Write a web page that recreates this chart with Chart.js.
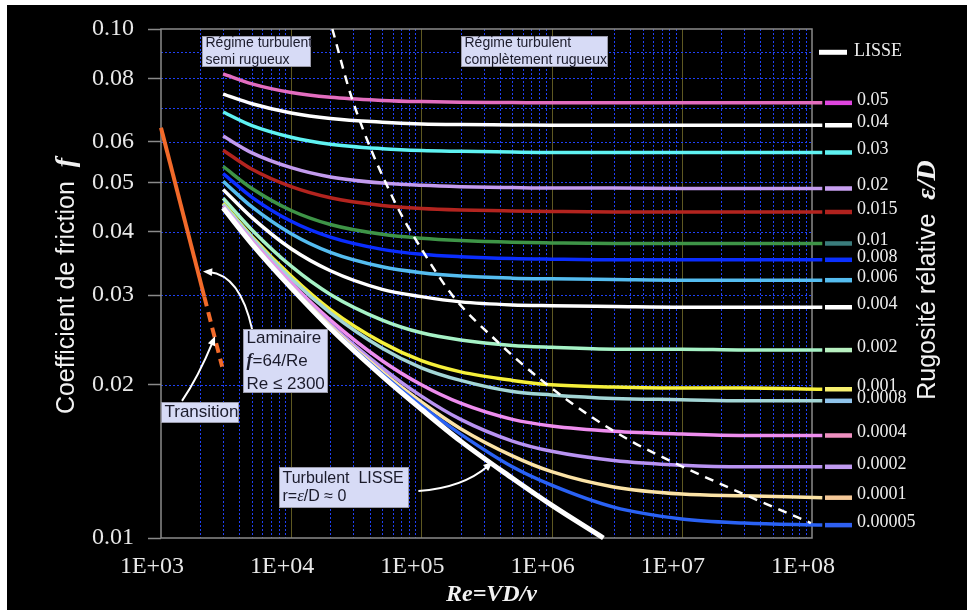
<!DOCTYPE html>
<html>
<head>
<meta charset="utf-8">
<script src="https://cdn.jsdelivr.net/npm/chart.js@4.4.1/dist/chart.umd.min.js"></script>
<style>
  html, body { margin: 0; padding: 0; background: #fff; }
  #wrap { width: 967px; height: 610px; }
</style>
</head>
<body>
<div id="wrap"><canvas id="moody" width="967" height="610"></canvas></div>
<script>
  // Reynolds numbers where the curves were read
  const reynolds = [3000, 5000, 10000, 20000, 50000, 100000, 200000, 500000, 1000000, 3000000, 10000000, 30000000, 120000000];

  // friction factor per relative roughness
  const eps0_05    = [0.0816, 0.0780, 0.0750, 0.0734, 0.0724, 0.0720, 0.0718, 0.0717, 0.0716, 0.0716, 0.0716, 0.0716, 0.0716];
  const eps0_04    = [0.0745, 0.0713, 0.0684, 0.0667, 0.0656, 0.0651, 0.0649, 0.0648, 0.0647, 0.0647, 0.0647, 0.0647, 0.0647];
  const eps0_03    = [0.0687, 0.0646, 0.0613, 0.0594, 0.0582, 0.0577, 0.0575, 0.0573, 0.0572, 0.0572, 0.0572, 0.0572, 0.0572];
  const eps0_02    = [0.0616, 0.0571, 0.0534, 0.0512, 0.0498, 0.0493, 0.0490, 0.0488, 0.0487, 0.0487, 0.0486, 0.0486, 0.0486];
  const eps0_015   = [0.0578, 0.0530, 0.0490, 0.0466, 0.0450, 0.0444, 0.0441, 0.0439, 0.0438, 0.0437, 0.0437, 0.0437, 0.0437];
  const eps0_01    = [0.0537, 0.0486, 0.0440, 0.0413, 0.0395, 0.0388, 0.0384, 0.0381, 0.0380, 0.0379, 0.0379, 0.0379, 0.0379];
  const eps0_008   = [0.0520, 0.0467, 0.0419, 0.0390, 0.0369, 0.0361, 0.0357, 0.0354, 0.0353, 0.0352, 0.0352, 0.0352, 0.0352];
  const eps0_006   = [0.0502, 0.0447, 0.0396, 0.0364, 0.0341, 0.0332, 0.0327, 0.0324, 0.0323, 0.0322, 0.0321, 0.0321, 0.0321];
  const eps0_004   = [0.0484, 0.0426, 0.0370, 0.0335, 0.0308, 0.0298, 0.0291, 0.0287, 0.0286, 0.0285, 0.0284, 0.0284, 0.0284];
  const eps0_002   = [0.0465, 0.0403, 0.0342, 0.0301, 0.0268, 0.0253, 0.0245, 0.0239, 0.0237, 0.0235, 0.0235, 0.0234, 0.0234];
  const eps0_001   = [0.0455, 0.0391, 0.0327, 0.0281, 0.0242, 0.0223, 0.0212, 0.0204, 0.0200, 0.0198, 0.0197, 0.0197, 0.0196];
  const eps0_0008  = [0.0453, 0.0389, 0.0323, 0.0277, 0.0236, 0.0216, 0.0204, 0.0194, 0.0191, 0.0188, 0.0187, 0.0186, 0.0186];
  const eps0_0004  = [0.0449, 0.0384, 0.0317, 0.0268, 0.0223, 0.0200, 0.0184, 0.0171, 0.0166, 0.0162, 0.0160, 0.0159, 0.0159];
  const eps0_0002  = [0.0447, 0.0381, 0.0313, 0.0263, 0.0216, 0.0190, 0.0171, 0.0155, 0.0148, 0.0142, 0.0139, 0.0138, 0.0138];
  const eps0_0001  = [0.0446, 0.0380, 0.0312, 0.0261, 0.0212, 0.0185, 0.0164, 0.0145, 0.0135, 0.0126, 0.0122, 0.0121, 0.0120];
  const eps0_00005 = [0.0445, 0.0379, 0.0311, 0.0259, 0.0210, 0.0182, 0.0160, 0.0138, 0.0127, 0.0115, 0.0109, 0.0107, 0.0106];

  // smooth pipe (LISSE)
  const reSmooth = [3000, 5000, 10000, 20000, 50000, 100000, 200000, 500000, 1000000, 2500000];
  const fSmooth  = [0.0445, 0.0378, 0.0310, 0.0258, 0.0208, 0.0179, 0.0155, 0.0131, 0.0116, 0.0100];

  // laminar line and transition part
  const reLaminar = [1000, 2150];
  const fLaminar  = [0.0640, 0.0298];
  const reTransition = [2150, 2950];
  const fTransition  = [0.0298, 0.0217];

  // dashed limit of the fully rough zone
  const reLimit = [20700, 29400, 61000, 104000, 176000, 384000, 820000, 1890000, 4270000, 10200000, 32000000, 98000000];
  const fLimit  = [0.100, 0.0728, 0.0463, 0.0364, 0.0298, 0.0243, 0.0205, 0.0175, 0.0154, 0.0138, 0.0121, 0.0107];

  const xTickLabels = ["1E+03", "1E+04", "1E+05", "1E+06", "1E+07", "1E+08"];
  const yTickValues = [0.01, 0.02, 0.03, 0.04, 0.05, 0.06, 0.07, 0.08, 0.09, 0.10];
  const yTickLabels = ["0.01", "0.02", "0.03", "0.04", "0.05", "0.06", "", "0.08", "", "0.10"];

  const curves = [
    { label: "0.05",    data: eps0_05,    color: "#E36DBF", key: "#DF45DF" },
    { label: "0.04",    data: eps0_04,    color: "#FFFFFF", key: "#FFFFFF" },
    { label: "0.03",    data: eps0_03,    color: "#5FF2F2", key: "#5FF2F2" },
    { label: "0.02",    data: eps0_02,    color: "#C39BEE", key: "#C8A0F0" },
    { label: "0.015",   data: eps0_015,   color: "#B3241F", key: "#B0221E" },
    { label: "0.01",    data: eps0_01,    color: "#3E9447", key: "#3A7C7C" },
    { label: "0.008",   data: eps0_008,   color: "#0A2DFF", key: "#0A30FF" },
    { label: "0.006",   data: eps0_006,   color: "#55BDF0", key: "#55BDF0" },
    { label: "0.004",   data: eps0_004,   color: "#FFFFFF", key: "#FFFFFF" },
    { label: "0.002",   data: eps0_002,   color: "#A6F2C6", key: "#B8F0C0" },
    { label: "0.001",   data: eps0_001,   color: "#F6F03A", key: "#F8F070" },
    { label: "0.0008",  data: eps0_0008,  color: "#A3D6D6", key: "#90C4EC" },
    { label: "0.0004",  data: eps0_0004,  color: "#EE8DEE", key: "#EE90C0" },
    { label: "0.0002",  data: eps0_0002,  color: "#B993F2", key: "#C09AF0" },
    { label: "0.0001",  data: eps0_0001,  color: "#FBE3A6", key: "#F4C898" },
    { label: "0.00005", data: eps0_00005, color: "#2A62F4", key: "#2F60F0" }
  ];

  const SANS = "'Liberation Sans', Arial, sans-serif";
  const SERIF = "'Liberation Serif', 'Times New Roman', serif";

  const pairs = (xs, ys) => xs.map((x, i) => ({ x: x, y: ys[i] }));
  const isDecade = v => Math.abs(Math.log10(v) - Math.round(Math.log10(v))) < 1e-6;

  const xGridValues = [];
  for (let e = 3; e < 8; e++) {
    for (let m = 1; m < 10; m++) xGridValues.push(m * Math.pow(10, e));
  }
  xGridValues.push(1e8);

  function yLabel(v) {
    const i = yTickValues.findIndex(t => Math.abs(t - v) < 1e-9);
    return i < 0 ? "" : yTickLabels[i];
  }

  function drawRich(c, parts, x, y, align) {
    let total = 0;
    parts.forEach(p => { c.font = p[1]; total += c.measureText(p[0]).width; });
    let cx = align === "center" ? x - total / 2 : x;
    c.textAlign = "left";
    c.textBaseline = "middle";
    parts.forEach(p => {
      c.font = p[1];
      c.fillText(p[0], cx, y);
      cx += c.measureText(p[0]).width;
    });
  }

  const datasets = [
    {
      data: pairs(reLimit, fLimit), borderColor: "#FFFFFF", borderWidth: 2.5,
      borderDash: [9, 7], clip: false
    },
    {
      data: pairs(reSmooth, fSmooth), borderColor: "#FFFFFF", borderWidth: 5, clip: false
    },
    {
      data: pairs(reLaminar, fLaminar), borderColor: "#F26A2A", borderWidth: 4, clip: false
    },
    {
      data: pairs(reTransition, fTransition), borderColor: "#F26A2A", borderWidth: 4,
      borderDash: [10, 6], clip: false
    }
  ];
  curves.slice().reverse().forEach(c => {
    datasets.push({
      label: c.label, data: pairs(reynolds, c.data),
      borderColor: c.color, borderWidth: 3.5, clip: false
    });
  });

  const background = {
    id: "background",
    beforeDraw(chart) {
      const c = chart.ctx;
      c.save();
      c.fillStyle = "#FFFFFF";
      c.fillRect(0, 0, chart.width, chart.height);
      c.fillStyle = "#000000";
      c.fillRect(7, 5, chart.width - 7, chart.height - 5);
      c.restore();
    }
  };

  const grid = {
    id: "grid",
    beforeDatasetsDraw(chart) {
      const c = chart.ctx;
      const a = chart.chartArea;
      const x = chart.scales.x;
      const y = chart.scales.y;
      c.save();
      c.lineWidth = 1;
      xGridValues.forEach(v => {
        if (v <= 1000 || v >= 1e8) return;
        const px = Math.round(x.getPixelForValue(v)) + 0.5;
        c.strokeStyle = isDecade(v) ? "#5E5822" : "#1F40F5";
        c.setLineDash(isDecade(v) ? [] : [2, 2]);
        c.beginPath(); c.moveTo(px, a.top); c.lineTo(px, a.bottom); c.stroke();
      });
      yTickValues.forEach(v => {
        if (v <= 0.01 || v >= 0.1) return;
        const py = Math.round(y.getPixelForValue(v)) + 0.5;
        c.strokeStyle = "#1F40F5";
        c.setLineDash([2, 2]);
        c.beginPath(); c.moveTo(a.left, py); c.lineTo(a.right, py); c.stroke();
      });
      c.setLineDash([]);
      c.strokeStyle = "#8A8A8A";
      c.lineWidth = 1.5;
      c.strokeRect(a.left, a.top, a.right - a.left, a.bottom - a.top);
      c.restore();
    }
  };

  const boxes = [
    { re: 2070, f: 0.0969, w: 108, h: 30, size: 14, gap: 17,
      lines: [[["Régime turbulent", 0]], [["semi rugueux", 0]]] },
    { re: 203000, f: 0.0969, w: 146, h: 30, size: 14, gap: 17,
      lines: [[["Régime turbulent", 0]], [["complètement rugueux", 0]]] },
    { re: 4280, f: 0.0257, w: 84, h: 63, size: 17, gap: 23,
      lines: [[["Laminaire", 0]], [["f", 1], ["=64/Re", 0]], [["Re ≤ 2300", 0]]] },
    { re: 1000, f: 0.01852, w: 77, h: 20, size: 17, gap: 0,
      lines: [[["Transition", 0]]] },
    { re: 8090, f: 0.0138, w: 129, h: 40, size: 16, gap: 18,
      lines: [[["Turbulent  LISSE", 0]], [["r=", 0], ["ε", 2], ["/D ≈ 0", 0]]] }
  ];

  const arrows = [
    { from: [5010, 0.0257], ctrl: [4050, 0.0329], to: [2100, 0.0334] },
    { from: [1450, 0.0186], ctrl: [1930, 0.0207], to: [2600, 0.0249] },
    { from: [94800, 0.01237], ctrl: [207000, 0.01254], to: [352000, 0.0141] }
  ];

  const notes = {
    id: "notes",
    afterDatasetsDraw(chart) {
      const c = chart.ctx;
      const a = chart.chartArea;
      const x = chart.scales.x;
      const y = chart.scales.y;
      c.save();

      // arrows
      c.strokeStyle = "#FFFFFF";
      c.fillStyle = "#FFFFFF";
      c.lineWidth = 2;
      arrows.forEach(ar => {
        const x0 = x.getPixelForValue(ar.from[0]), y0 = y.getPixelForValue(ar.from[1]);
        const xc = x.getPixelForValue(ar.ctrl[0]), yc = y.getPixelForValue(ar.ctrl[1]);
        const x1 = x.getPixelForValue(ar.to[0]), y1 = y.getPixelForValue(ar.to[1]);
        const ang = Math.atan2(y1 - yc, x1 - xc);
        c.beginPath();
        c.moveTo(x0, y0);
        c.quadraticCurveTo(xc, yc, x1 - 6 * Math.cos(ang), y1 - 6 * Math.sin(ang));
        c.stroke();
        c.beginPath();
        c.moveTo(x1, y1);
        c.lineTo(x1 - 10 * Math.cos(ang - 0.4), y1 - 10 * Math.sin(ang - 0.4));
        c.lineTo(x1 - 10 * Math.cos(ang + 0.4), y1 - 10 * Math.sin(ang + 0.4));
        c.closePath();
        c.fill();
      });

      // text boxes
      boxes.forEach(b => {
        const bx = Math.round(x.getPixelForValue(b.re)) + 0.5;
        const by = Math.round(y.getPixelForValue(b.f)) + 0.5;
        c.fillStyle = "#D7DBF6";
        c.fillRect(bx, by, b.w, b.h);
        c.strokeStyle = "#9A9AAA";
        c.lineWidth = 1;
        c.strokeRect(bx, by, b.w, b.h);
        c.fillStyle = "#1B1B2B";
        const fonts = [
          b.size + "px " + SANS,
          "italic bold " + (b.size + 1) + "px " + SERIF,
          "italic " + (b.size + 1) + "px " + SERIF
        ];
        const first = by + b.h / 2 - (b.lines.length - 1) * b.gap / 2;
        b.lines.forEach((ln, i) => {
          drawRich(c, ln.map(p => [p[0], fonts[p[1]]]), bx + 3, first + i * b.gap, "left");
        });
      });

      // right-hand key
      c.lineCap = "butt";
      c.strokeStyle = "#FFFFFF";
      c.lineWidth = 5;
      const ly = y.getPixelForValue(0.09);
      c.beginPath(); c.moveTo(a.right + 7, ly); c.lineTo(a.right + 35, ly); c.stroke();
      c.fillStyle = "#EEEEEE";
      c.font = "18px " + SERIF;
      c.textAlign = "left";
      c.textBaseline = "middle";
      c.fillText("LISSE", a.right + 42, ly - 1);
      curves.forEach(cv => {
        const py = y.getPixelForValue(cv.data[cv.data.length - 1]);
        c.strokeStyle = cv.key;
        c.lineWidth = 4.5;
        c.beginPath(); c.moveTo(a.right + 13, py); c.lineTo(a.right + 40, py); c.stroke();
        c.fillStyle = "#EEEEEE";
        c.font = "18px " + SERIF;
        c.fillText(cv.label, a.right + 45, py - 3);
      });

      // axis titles
      c.fillStyle = "#F2F2F2";
      c.save();
      c.translate(67, 286);
      c.rotate(-Math.PI / 2);
      drawRich(c, [["Coefficient de friction  ", "25px " + SANS], ["f", "italic bold 28px " + SERIF]], 0, 0, "center");
      c.restore();
      c.save();
      c.translate(928, 280);
      c.rotate(-Math.PI / 2);
      drawRich(c, [["Rugosité rélative  ", "25px " + SANS], ["ε/D", "italic bold 28px " + SERIF]], 0, 0, "center");
      c.restore();
      drawRich(c, [["Re=VD/v", "italic bold 24px " + SERIF]], (a.left + a.right) / 2 + 5, 595, "center");

      c.restore();
    }
  };

  const ctx = document.getElementById("moody");

  new Chart(ctx, {
    type: "line",
    data: { datasets: datasets },
    options: {
      responsive: false,
      animation: false,
      devicePixelRatio: 1,
      layout: { padding: { left: 0, right: 155, top: 29, bottom: 0 } },
      elements: {
        point: { radius: 0 },
        line: { cubicInterpolationMode: "monotone", fill: false, borderCapStyle: "butt" }
      },
      plugins: {
        legend: { display: false },
        tooltip: { enabled: false }
      },
      scales: {
        x: {
          type: "logarithmic",
          min: 1000,
          max: 1e8,
          afterFit: s => { s.height = 72; },
          afterBuildTicks: s => { s.ticks = xGridValues.map(v => ({ value: v })); },
          grid: { drawOnChartArea: false, drawTicks: false },
          border: { display: false },
          ticks: {
            autoSkip: false,
            maxRotation: 0,
            padding: 14,
            labelOffset: -9,
            color: "#E8E8E8",
            font: { family: "Liberation Serif", size: 24 },
            callback: v => isDecade(v) ? xTickLabels[Math.round(Math.log10(v)) - 3] : ""
          }
        },
        y: {
          type: "logarithmic",
          min: 0.01,
          max: 0.1,
          afterFit: s => { s.width = 161; },
          afterBuildTicks: s => { s.ticks = yTickValues.map(v => ({ value: v })); },
          grid: {
            drawOnChartArea: false,
            tickLength: 13,
            tickWidth: 1.5,
            tickColor: c => (c.tick && yLabel(c.tick.value)) ? "#8A8A8A" : "rgba(0,0,0,0)"
          },
          border: { display: false },
          ticks: {
            autoSkip: false,
            padding: 14,
            color: "#E8E8E8",
            font: { family: "Liberation Serif", size: 24 },
            callback: v => yLabel(v)
          }
        }
      }
    },
    plugins: [background, grid, notes]
  });
</script>
</body>
</html>
